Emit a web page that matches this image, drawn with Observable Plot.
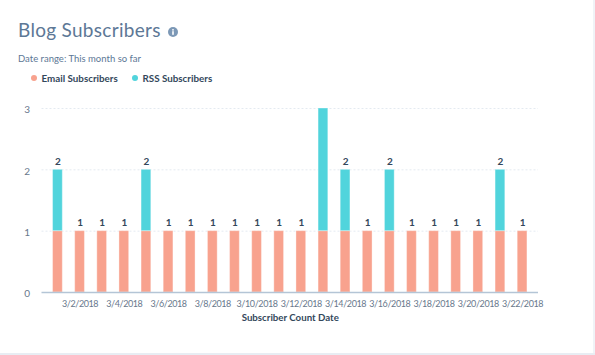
<!DOCTYPE html>
<html>
<head>
<meta charset="utf-8">
<script src="https://cdn.jsdelivr.net/npm/d3@7"></script>
<script src="https://cdn.jsdelivr.net/npm/@observablehq/plot@0.6"></script>
<style>
html,body{margin:0;padding:0;background:#fff;overflow:hidden}
body{width:595px;height:355px;position:relative;font-family:Lato,sans-serif}
#head{height:92px;position:relative}
#title{position:absolute;left:18px;top:16px;font-size:19px;line-height:28px;color:#5d7896;letter-spacing:.3px;font-weight:400}
#info{position:absolute;left:167.5px;top:26.5px;width:10px;height:10px}
#sub{position:absolute;left:18px;top:52px;font-size:9.5px;line-height:14px;color:#5d7896}
#legend{position:absolute;left:31px;top:71px;font-size:9.8px;line-height:14px;color:#33475b;font-weight:700;white-space:nowrap}
#legend span.i{position:absolute;top:0}
#legend i{position:absolute;top:3.5px;width:6px;height:6px;border-radius:50%}
#chart{position:absolute;left:0;top:92px}
#edgeR{position:absolute;left:593px;top:0;width:2px;height:353px;background:#f0f3f7}
#edgeB{position:absolute;left:0;top:352.5px;width:595px;height:2.5px;background:#e8edf3}
svg text{font-family:Lato,sans-serif}
</style>
</head>
<body>
<div id="head">
  <div id="title">Blog Subscribers</div>
  <svg id="info" viewBox="0 0 10 10"><circle cx="5" cy="5" r="5" fill="#7c98b6"/><rect x="4.2" y="4.2" width="1.6" height="3.6" fill="#fff"/><rect x="4.2" y="2.1" width="1.6" height="1.5" fill="#fff"/></svg>
  <div id="sub">Date range: This month so far</div>
  <div id="legend"></div>
</div>
<div id="chart"></div>
<div id="edgeR"></div>
<div id="edgeB"></div>
<script>
const dates = ["3/1/2018","3/2/2018","3/3/2018","3/4/2018","3/5/2018","3/6/2018","3/7/2018","3/8/2018","3/9/2018","3/10/2018","3/11/2018","3/12/2018","3/13/2018","3/14/2018","3/15/2018","3/16/2018","3/17/2018","3/18/2018","3/19/2018","3/20/2018","3/21/2018","3/22/2018"];
const emailSubscribers = [1,1,1,1,1,1,1,1,1,1,1,1,1,1,1,1,1,1,1,1,1,1];
const rssSubscribers   = [1,0,0,0,1,0,0,0,0,0,0,0,2,1,0,1,0,0,0,0,1,0];
const seriesNames = ["Email Subscribers","RSS Subscribers"];
const seriesColors = ["#f8a28e","#51d4dc"];
const tickDates = ["3/2/2018","3/4/2018","3/6/2018","3/8/2018","3/10/2018","3/12/2018","3/14/2018","3/16/2018","3/18/2018","3/20/2018","3/22/2018"];
const yTicks = [0,1,2,3];

const legendOffsets = [0,101];
document.getElementById("legend").innerHTML = seriesNames.map((n,i)=>
  `<span class="i" style="left:${legendOffsets[i]}px;padding-left:10.5px"><i style="left:0;background:${seriesColors[i]}"></i>${n}</span>`).join("");

const rows = dates.flatMap((d,i)=>[
  {date:d,series:seriesNames[0],value:emailSubscribers[i]},
  {date:d,series:seriesNames[1],value:rssSubscribers[i]}
]).filter(r=>r.value>0);
const totals = dates.map((d,i)=>({date:d,total:emailSubscribers[i]+rssSubscribers[i]}));

const plot = Plot.plot({
  width:595, height:263,
  marginLeft:41.5, marginRight:57, marginTop:16, marginBottom:63,
  style:{background:"transparent",overflow:"visible"},
  x:{type:"band",domain:dates,paddingInner:0.56,paddingOuter:0.5,round:false},
  y:{domain:[0,3],range:[200,16]},
  color:{domain:seriesNames,range:seriesColors},
  marks:[
    Plot.ruleY(yTicks.filter(t=>t>0),{stroke:"#e4eaf1",strokeWidth:1,strokeDasharray:"2,2"}),
    Plot.axisY({ticks:yTicks,tickSize:0,tickPadding:0,tickFormat:d3.format("d"),label:null,fill:"#68788c",fontSize:10,dx:-12,dy:1.5}),
    Plot.barY(rows,{x:"date",y:"value",fill:"series",order:seriesNames,stroke:"#fff",strokeOpacity:.35,strokeWidth:1}),
    Plot.text(totals.filter(d=>d.total<3),{x:"date",y:"total",text:d=>String(d.total),dy:-8,fill:"#33475b",fontSize:10,fontWeight:700}),
    Plot.ruleY([0],{stroke:"#b4c5d6",strokeWidth:1.5}),
    Plot.axisX({ticks:tickDates,tickSize:0,tickPadding:8,fill:"#68788c",fontSize:9,label:"Subscriber Count Date",labelAnchor:"center",labelArrow:"none",labelOffset:28})
  ]
});
document.getElementById("chart").appendChild(plot);
d3.select(plot).selectAll('[aria-label="x-axis tick label"] text').style("letter-spacing","-0.4px");
d3.select(plot).selectAll('[aria-label="x-axis label"] text').style("font-weight",700).style("fill","#33475b").style("font-size","9.7px");
</script>
</body>
</html>
